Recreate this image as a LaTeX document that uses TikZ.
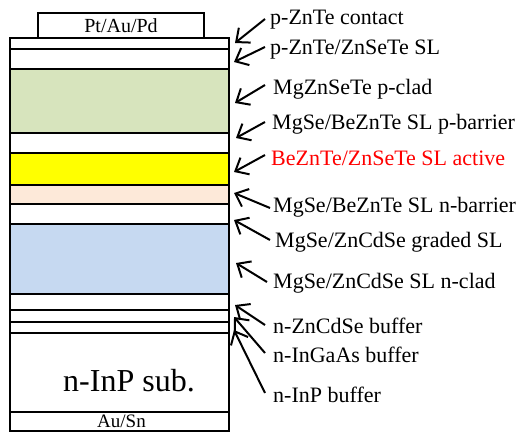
\documentclass[tikz,border=0pt]{standalone}
\usepackage{fontspec}
\setmainfont{Liberation Serif}
\usetikzlibrary{arrows.meta}
\definecolor{cladgreen}{RGB}{215,228,189}
\definecolor{actyellow}{RGB}{255,255,0}
\definecolor{peach}{RGB}{253,233,217}
\definecolor{nblue}{RGB}{198,217,241}
\tikzset{
  layer/.style={draw=black, line width=2pt},
  lbl/.style={anchor=base west, inner sep=0pt, font=\fontsize{22}{24}\selectfont},
  ptr/.style={line width=2pt, arrows={-Straight Barb[length=11pt,width=19pt,line width=2pt]}},
}
\begin{document}
\begin{tikzpicture}[x=1pt,y=-1pt]
\useasboundingbox (0,0) rectangle (525,433);
% layers
\fill[cladgreen] (10,68.7) rectangle (229,133.3);
\fill[actyellow] (10,153.3) rectangle (229,185);
\fill[peach] (10,185) rectangle (229,204.3);
\fill[nblue] (10,224) rectangle (229,294.3);
\draw[layer] (38,13) rectangle (204,37.7);
\node[inner sep=0pt, font=\fontsize{20}{22}\selectfont] (pt) at (121,26) {Pt/Au/Pd};
\draw[layer] (10,37.7) rectangle (229,431);
\foreach \yy in {49.3,68.7,133.3,153.3,185,204.3,224,294.3,310,321.7,333.3,411.7}
  \draw[layer] (10,\yy) -- (229,\yy);
\node[inner sep=0pt, font=\fontsize{32}{34}\selectfont, anchor=base] (sub) at (129,391.5) {n-InP sub.};
\node[inner sep=0pt, font=\fontsize{19}{21}\selectfont, anchor=base] (ausn) at (121.5,427) {Au/Sn};
% labels
\node[lbl] (l1) at (270,25) {p-ZnTe contact};
\node[lbl] (l2) at (270,55) {p-ZnTe/ZnSeTe SL};
\node[lbl] (l3) at (273,95) {MgZnSeTe p-clad};
\node[lbl] (l4) at (272,130) {MgSe/BeZnTe SL p-barrier};
\node[lbl, text=red] (l5) at (271,165) {BeZnTe/ZnSeTe SL active};
\node[lbl] (l6) at (273,212) {MgSe/BeZnTe SL n-barrier};
\node[lbl] (l7) at (275,247) {MgSe/ZnCdSe graded SL};
\node[lbl] (l8) at (273,288) {MgSe/ZnCdSe SL n-clad};
\node[lbl] (l9) at (273,333) {n-ZnCdSe buffer};
\node[lbl] (l10) at (273,362) {n-InGaAs buffer};
\node[lbl] (l11) at (273,402) {n-InP buffer};
% arrow ends
\coordinate (t1) at (265,19);   \coordinate (h1) at (235,43);
\coordinate (t2) at (265,47);   \coordinate (h2) at (234,62);
\coordinate (t3) at (265,85);   \coordinate (h3) at (235,103);
\coordinate (t4) at (265,122);  \coordinate (h4) at (236,138);
\coordinate (t5) at (265,155);  \coordinate (h5) at (234,172);
\coordinate (t6) at (270,208);  \coordinate (h6) at (234,193);
\coordinate (t7) at (270,240);  \coordinate (h7) at (234,220);
\coordinate (t8) at (267,282);  \coordinate (h8) at (236,263);
\coordinate (t9) at (265,325);  \coordinate (h9) at (235,305);
\coordinate (t10) at (265,353); \coordinate (h10) at (234,317);
\coordinate (t11) at (265,393); \coordinate (h11) at (234,330);
\foreach \i in {1,...,11} \draw[ptr] (t\i) -- (h\i);
\end{tikzpicture}
\end{document}
